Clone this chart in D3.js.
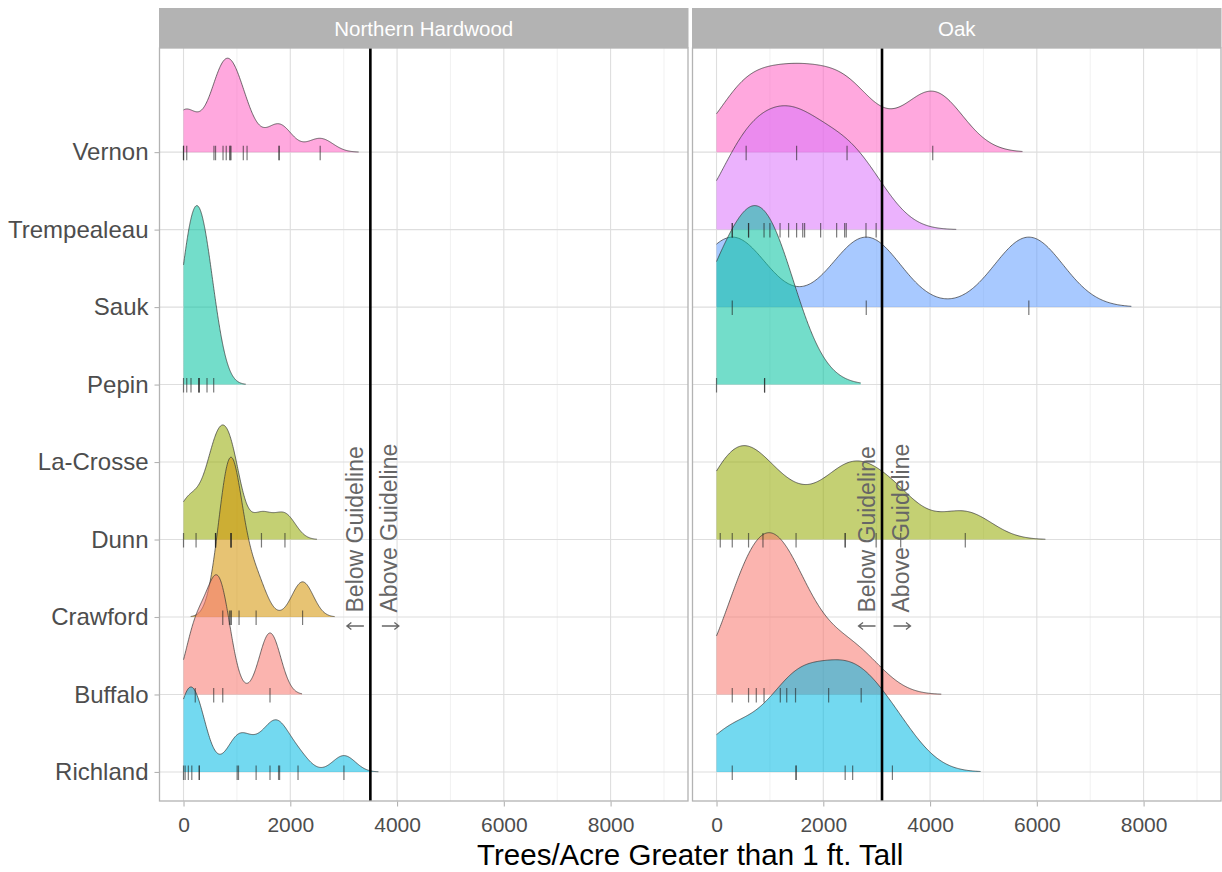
<!DOCTYPE html>
<html>
<head>
<meta charset="utf-8">
<script src="https://cdn.jsdelivr.net/npm/d3@7/dist/d3.min.js"></script>
<style>
  body { margin: 0; background: #fff; }
  text { font-family: "Liberation Sans", Arial, sans-serif; }
</style>
</head>
<body>
<script>
// counties, bottom row first
const counties = ["Richland", "Buffalo", "Crawford", "Dunn", "La-Crosse", "Pepin", "Sauk", "Trempealeau", "Vernon"];
const countyColors = ["#00B9E3", "#F8766D", "#D39200", "#93AA00", "#00BA38", "#00C19F", "#619CFF", "#DB72FB", "#FF61C3"];
const forestTypes = ["Northern Hardwood", "Oak"];
const guidelines = [3500, 3100];
const xTicks = [0, 2000, 4000, 6000, 8000];
const xMinor = [1000, 3000, 5000, 7000, 9000];

// trees/acre per plot, read off the rug marks
// northern hardwood
const nhVernon   = [0, 0, 60, 570, 600, 740, 800, 870, 870, 890, 1120, 1190, 1790, 1790, 2560];
const nhPepin    = [0, 60, 140, 290, 290, 290, 440, 565];
const nhDunn     = [0, 235, 600, 600, 600, 890, 890, 890, 1460, 1900];
const nhCrawford = [735, 860, 890, 890, 1040, 1360, 2230];
const nhBuffalo  = [220, 565, 735, 1620];
const nhRichland = [0, 30, 90, 155, 295, 295, 1005, 1030, 1360, 1620, 1780, 1800, 2145, 3005];
// oak
const oakVernon      = [555, 1500, 2445, 4050];
const oakTrempealeau = [295, 295, 600, 600, 890, 1000, 1190, 1350, 1500, 1615, 1650, 1950, 2250, 2400, 2430, 2800, 2990];
const oakSauk        = [295, 2805, 5850];
const oakPepin       = [0, 900, 900];
const oakDunn        = [70, 295, 600, 870, 1490, 2410, 2410, 2990, 3450, 4660];
const oakBuffalo     = [295, 600, 745, 890, 1195, 1315, 1480, 2100, 2710];
const oakRichland    = [295, 1490, 1490, 2410, 2550, 3295];

// kernel bandwidths (trees/acre)
const nhBandwidth  = {Vernon: 240, Pepin: 200, Dunn: 200, Crawford: 200, Buffalo: 200, Richland: 215};
const oakBandwidth = {Vernon: 560, Trempealeau: 500, Sauk: 640, Pepin: 600, Dunn: 500, Buffalo: 500, Richland: 550};

const panelData = [
  {Vernon: nhVernon, Pepin: nhPepin, Dunn: nhDunn, Crawford: nhCrawford, Buffalo: nhBuffalo, Richland: nhRichland},
  {Vernon: oakVernon, Trempealeau: oakTrempealeau, Sauk: oakSauk, Pepin: oakPepin, Dunn: oakDunn, Buffalo: oakBuffalo, Richland: oakRichland}
];
const bandwidths = [nhBandwidth, oakBandwidth];

const width = 1222, height = 872;
const stripTop = 8, panelTop = 48, panelBottom = 801;
const panelX = [[159.5, 688], [692.5, 1221]];
const ridgeScale = 2.31;

const svg = d3.select("body").append("svg")
    .attr("width", width)
    .attr("height", height);

const y = d3.scaleLinear()
    .domain([-0.375, 9.344])
    .range([panelBottom, panelTop]);

function kde(values, bw) {
    let lo = Math.max(0, d3.min(values) - 3 * bw);
    let hi = d3.max(values) + 3 * bw;
    let n = values.length;
    return d3.range(0, 301).map(i => {
        let x = lo + (hi - lo) * i / 300;
        let s = d3.sum(values, v => Math.exp(-0.5 * ((x - v) / bw) ** 2));
        return [x, s / (n * bw * Math.sqrt(2 * Math.PI))];
    });
}

forestTypes.forEach((ft, p) => {
    let [x0, x1] = panelX[p];
    let x = d3.scaleLinear().domain([-450, 9450]).range([x0, x1]);
    let g = svg.append("g").attr("class", "panel");

    g.append("clipPath").attr("id", "clip" + p)
        .append("rect")
        .attr("x", x0).attr("y", panelTop)
        .attr("width", x1 - x0).attr("height", panelBottom - panelTop);

    // grid
    g.selectAll("line.minor")
        .data(xMinor)
        .enter().append("line")
        .attr("x1", d => x(d)).attr("x2", d => x(d))
        .attr("y1", panelTop).attr("y2", panelBottom)
        .attr("stroke", "#EBEBEB").attr("stroke-width", 0.7);
    g.selectAll("line.major")
        .data(xTicks)
        .enter().append("line")
        .attr("x1", d => x(d)).attr("x2", d => x(d))
        .attr("y1", panelTop).attr("y2", panelBottom)
        .attr("stroke", "#DEDEDE").attr("stroke-width", 1.1);
    g.selectAll("line.ygrid")
        .data(counties)
        .enter().append("line")
        .attr("x1", x0).attr("x2", x1)
        .attr("y1", (d, i) => y(i)).attr("y2", (d, i) => y(i))
        .attr("stroke", "#DEDEDE").attr("stroke-width", 1.1);

    // ridges
    let groups = counties.map((c, i) => ({county: c, idx: i, color: countyColors[i], values: panelData[p][c]}))
        .filter(d => d.values)
        .map(d => Object.assign(d, {dens: kde(d.values, bandwidths[p][d.county])}));
    let maxD = d3.max(groups, d => d3.max(d.dens, e => e[1]));

    let ridges = g.append("g").attr("clip-path", `url(#clip${p})`);
    groups.slice().reverse().forEach(d => {
        let area = d3.area()
            .x(e => x(e[0]))
            .y0(y(d.idx))
            .y1(e => y(d.idx + e[1] / maxD * ridgeScale));
        let line = d3.line()
            .x(e => x(e[0]))
            .y(e => y(d.idx + e[1] / maxD * ridgeScale));
        ridges.append("path")
            .attr("d", area(d.dens))
            .attr("fill", d.color)
            .attr("fill-opacity", 0.55);
        ridges.append("path")
            .attr("d", line(d.dens))
            .attr("fill", "none")
            .attr("stroke", "#333")
            .attr("stroke-width", 0.7);
    });

    // rug marks
    groups.forEach(d => {
        ridges.selectAll(null)
            .data(d.values)
            .enter().append("line")
            .attr("x1", v => x(v)).attr("x2", v => x(v))
            .attr("y1", y(d.idx) - 6.5).attr("y2", y(d.idx) + 8)
            .attr("stroke", "#222")
            .attr("stroke-opacity", 0.6)
            .attr("stroke-width", 1.2);
    });

    // guideline
    let gx = x(guidelines[p]);
    g.append("line")
        .attr("x1", gx).attr("x2", gx)
        .attr("y1", panelTop).attr("y2", panelBottom)
        .attr("stroke", "#000").attr("stroke-width", 2.6);

    let labelY = 612.5, arrowY = 626;
    [["Below Guideline", -15, -1, -15], ["Above Guideline", 19, 1, 20]].forEach(([lab, dx, dir, ax]) => {
        g.append("text")
            .attr("transform", `translate(${gx + dx},${labelY}) rotate(-90)`)
            .attr("dominant-baseline", "central")
            .attr("font-size", 23)
            .attr("fill", "#666")
            .text(lab);
        // arrow pointing left (below) or right (above)
        let cx = gx + ax, tip = cx + dir * 8.5;
        g.append("path")
            .attr("d", `M${cx - dir * 8.5},${arrowY}H${tip}M${tip - dir * 4.5},${arrowY - 3.5}L${tip},${arrowY}L${tip - dir * 4.5},${arrowY + 3.5}`)
            .attr("fill", "none")
            .attr("stroke", "#666")
            .attr("stroke-width", 1.3);
    });

    // border
    g.append("rect")
        .attr("x", x0).attr("y", panelTop)
        .attr("width", x1 - x0).attr("height", panelBottom - panelTop)
        .attr("fill", "none").attr("stroke", "#B3B3B3").attr("stroke-width", 1.3);

    // strip
    g.append("rect")
        .attr("x", x0 - 0.5).attr("y", stripTop)
        .attr("width", x1 - x0 + 1).attr("height", panelTop - stripTop)
        .attr("fill", "#B3B3B3");
    g.append("text")
        .attr("x", (x0 + x1) / 2).attr("y", (stripTop + panelTop) / 2)
        .attr("text-anchor", "middle")
        .attr("dominant-baseline", "central")
        .attr("font-size", 20.5)
        .attr("fill", "#fff")
        .text(ft);

    // x axis
    let xAxis = d3.axisBottom(x).tickValues(xTicks).tickFormat(d3.format("d"))
        .tickSize(5).tickPadding(11);
    let ax = svg.append("g")
        .attr("transform", `translate(0,${panelBottom + 0.5})`)
        .call(xAxis);
    ax.select(".domain").remove();
    ax.selectAll(".tick line").attr("stroke", "#B3B3B3").attr("stroke-width", 1.1);
    ax.selectAll(".tick text").attr("fill", "#4D4D4D").attr("font-size", 21)
        .attr("font-family", "Liberation Sans, Arial, sans-serif");
});

// y axis
let yAxis = d3.axisLeft(y)
    .tickValues(d3.range(counties.length))
    .tickFormat(i => counties[i])
    .tickSize(5).tickPadding(6);
let ay = svg.append("g")
    .attr("transform", `translate(${panelX[0][0]},0)`)
    .call(yAxis);
ay.select(".domain").remove();
ay.selectAll(".tick line").attr("stroke", "#B3B3B3").attr("stroke-width", 1.1);
ay.selectAll(".tick text").attr("fill", "#4D4D4D").attr("font-size", 24)
    .attr("font-family", "Liberation Sans, Arial, sans-serif");

svg.append("text")
    .attr("x", (panelX[0][0] + panelX[1][1]) / 2)
    .attr("y", 865)
    .attr("text-anchor", "middle")
    .attr("font-size", 29.5)
    .attr("fill", "#000")
    .text("Trees/Acre Greater than 1 ft. Tall");
</script>
</body>
</html>
